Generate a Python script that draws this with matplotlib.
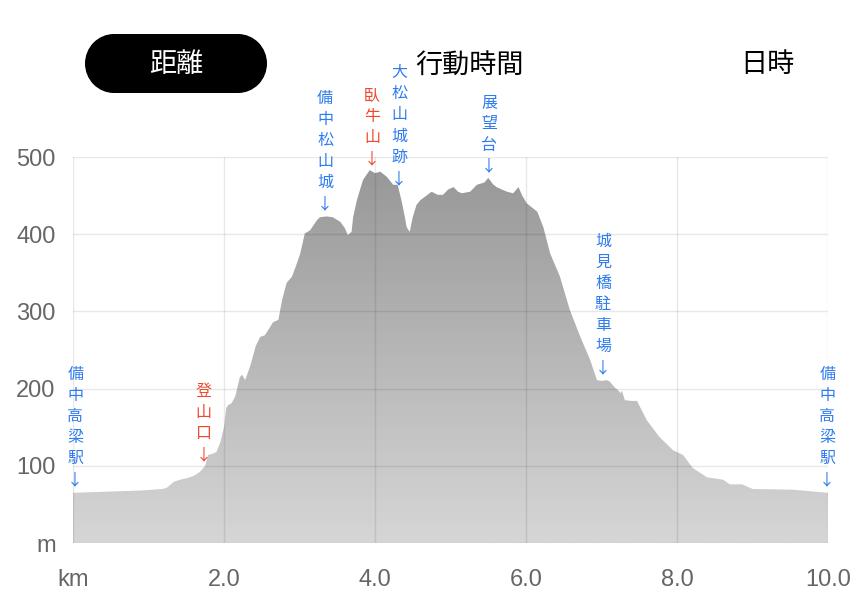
import matplotlib
matplotlib.use("Agg")
import matplotlib.pyplot as plt
import numpy as np
from matplotlib.colors import LinearSegmentedColormap
from matplotlib.patches import Rectangle, Ellipse

# ---- data ----
dist_km = [0.0, 0.3, 0.6, 0.9, 1.19, 1.25, 1.33, 1.42, 1.51, 1.6, 1.68, 1.75, 1.79, 1.86, 1.90,
           1.95, 2.0, 2.03, 2.06, 2.1, 2.15, 2.21, 2.24, 2.28, 2.35, 2.42, 2.48, 2.54, 2.6, 2.65,
           2.72, 2.77, 2.83, 2.9, 2.95, 3.01, 3.07, 3.14, 3.23, 3.27, 3.36, 3.44, 3.54, 3.6, 3.64,
           3.69, 3.71, 3.76, 3.84, 3.93, 4.0, 4.07, 4.16, 4.24, 4.3, 4.35, 4.39, 4.42, 4.46, 4.5,
           4.55, 4.6, 4.75, 4.83, 4.9, 4.97, 5.04, 5.1, 5.15, 5.26, 5.35, 5.45, 5.5, 5.56, 5.61,
           5.7, 5.75, 5.83, 5.9, 5.95, 6.01, 6.15, 6.23, 6.32, 6.45, 6.58, 6.72, 6.85, 6.94, 7.0,
           7.07, 7.11, 7.18, 7.22, 7.25, 7.27, 7.31, 7.4, 7.47, 7.6, 7.77, 7.95, 8.08, 8.21, 8.4,
           8.61, 8.7, 8.86, 9.0, 9.54, 10.0]
elev_m = [65, 66, 67, 68, 70, 72, 79, 82, 84, 87, 92, 100, 114, 116, 118,
          130, 150, 175, 179, 181, 190, 215, 218, 211, 230, 255, 267, 269, 278, 286,
          289, 315, 337, 345, 358, 375, 401, 405, 418, 422, 423, 422, 416, 408, 399,
          403, 422, 444, 470, 483, 479, 481, 474, 464, 464, 444, 425, 409, 403, 422,
          438, 444, 455, 451, 451, 458, 461, 455, 453, 455, 464, 467, 473, 465, 461,
          457, 455, 453, 461, 450, 440, 429, 409, 375, 345, 302, 267, 237, 211, 210,
          211, 209, 201, 198, 194, 197, 185, 184, 184, 159, 137, 120, 114, 97, 85,
          82, 76, 76, 70, 69, 65]

label_names = ["備中高梁駅", "登山口", "備中松山城", "臥牛山", "大松山城跡", "展望台", "城見橋駐車場", "備中高梁駅"]
label_km = [0.03, 1.73, 3.34, 3.96, 4.32, 5.51, 7.02, 9.99]
label_kind = ["station", "trail", "station", "trail", "station", "station", "station", "station"]

x_ticks = [0, 2, 4, 6, 8, 10]
x_ticklabels = ["km", "2.0", "4.0", "6.0", "8.0", "10.0"]
y_ticks = [0, 100, 200, 300, 400, 500]
y_ticklabels = ["m", "100", "200", "300", "400", "500"]

tab_labels = ["距離", "行動時間", "日時"]

# ---- figure ----
W, H, DPI = 860, 598, 100
fig = plt.figure(figsize=(W / DPI, H / DPI), dpi=DPI)
fig.patch.set_facecolor("white")
L, R, B, T = 73, 828, 543, 157
ax = fig.add_axes([L / W, 1 - B / H, (R - L) / W, (B - T) / H])
ax.set_xlim(0, 10)
ax.set_ylim(0, 500)
for s in ax.spines.values():
    s.set_visible(False)

# gradient fill under the profile
poly = ax.fill_between(dist_km, elev_m, 0, color="none", lw=0, zorder=1)
cmap = LinearSegmentedColormap.from_list("g", ["#d6d6d6", "#969696"])
grad = np.linspace(0, 1, 256).reshape(-1, 1)
im = ax.imshow(grad, extent=[0, 10, 0, 500], origin="lower", aspect="auto", cmap=cmap,
               vmin=0, vmax=1, zorder=1)
path = poly.get_paths()[0]
im.set_clip_path(path, transform=ax.transData)

# grid
ax.set_xticks(x_ticks)
ax.set_yticks(y_ticks)
ax.grid(True, color="black", alpha=0.09, lw=1.0, zorder=2)
ax.set_axisbelow(False)
ax.tick_params(length=0)
ax.set_xticklabels(x_ticklabels, fontsize=17, color="#666666", family="Liberation Sans")
ax.set_yticklabels(y_ticklabels, fontsize=17, color="#666666", family="Liberation Sans")
ax.tick_params(axis="x", pad=18.5)
ax.tick_params(axis="y", pad=12.5)

# vertical labels
colors = {"station": "#2f7cf0", "trail": "#ee4a2e"}
for name, xk, kind in zip(label_names, label_km, label_kind):
    y = float(np.interp(xk, dist_km, elev_m))
    txt = "\n".join(list(name)) + "\n↓"
    ax.annotate(txt, xy=(xk, y), xytext=(0, 3), textcoords="offset points",
                ha="center", va="bottom", fontsize=11.5, color=colors[kind],
                family=["Noto Sans CJK JP", "DejaVu Sans"], linespacing=1.32,
                annotation_clip=False, zorder=5)

# tabs (pill shape)
fig.patches.append(Rectangle((114 / W, 1 - 93 / H), 124 / W, 59 / H, transform=fig.transFigure,
                             facecolor="black", edgecolor="none"))
fig.patches.append(Ellipse((114 / W, 1 - 63.5 / H), 58 / W, 59 / H, transform=fig.transFigure,
                           facecolor="black", edgecolor="none"))
fig.patches.append(Ellipse((238 / W, 1 - 63.5 / H), 58 / W, 59 / H, transform=fig.transFigure,
                           facecolor="black", edgecolor="none"))
tab_x = [176, 470, 767]
tab_col = ["white", "black", "black"]
for lab, xp, c in zip(tab_labels, tab_x, tab_col):
    fig.text(xp / W, 1 - 65 / H, lab, ha="center", va="center", fontsize=19.5, color=c,
             family=["Noto Sans CJK JP", "DejaVu Sans"])

fig.savefig("out.png", dpi=DPI)
